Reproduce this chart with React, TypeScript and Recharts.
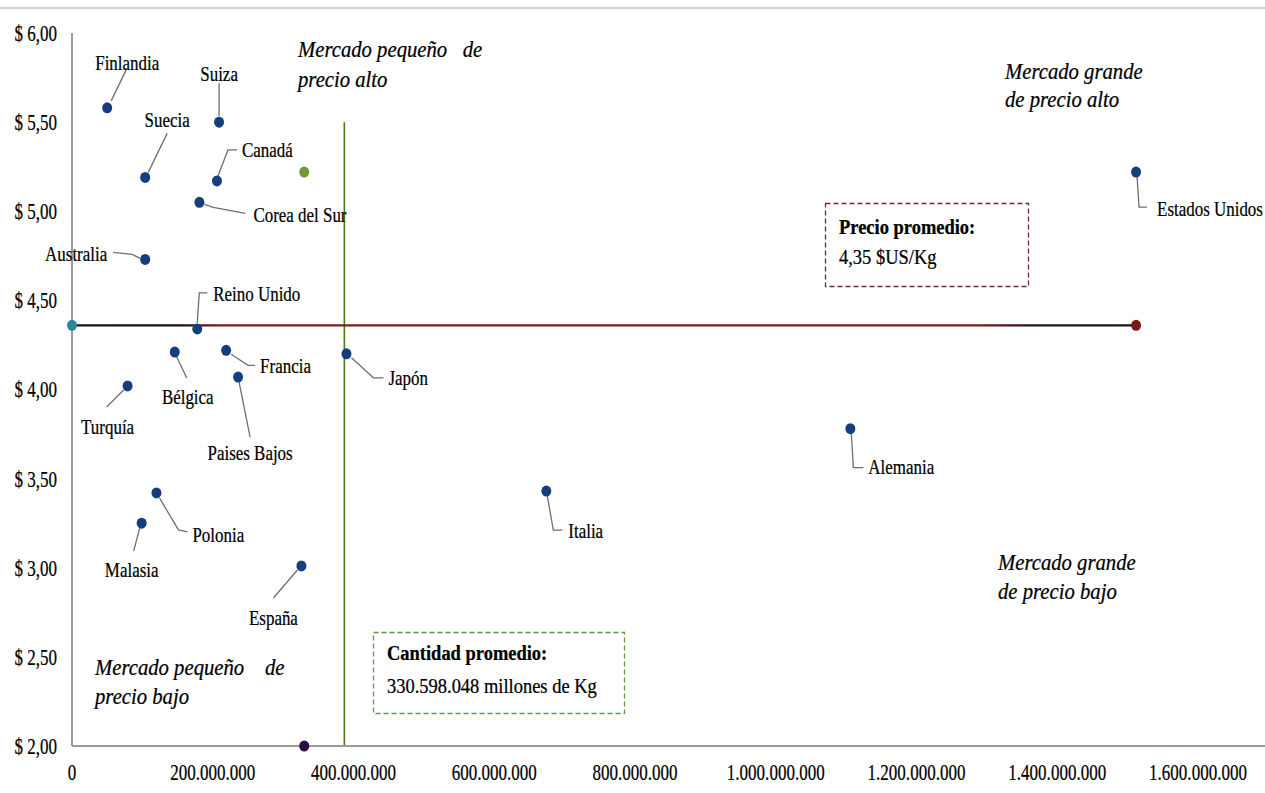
import React from "react";
import {
  ReferenceLine,
  Scatter,
  ScatterChart,
  XAxis,
  YAxis,
} from "recharts";

// Cantidad importada (Kg) y precio promedio ($US/Kg) por país
const paises = [
  "Finlandia",
  "Suiza",
  "Suecia",
  "Canadá",
  "Corea del Sur",
  "Australia",
  "Reino Unido",
  "Bélgica",
  "Francia",
  "Paises Bajos",
  "Japón",
  "Turquía",
  "Polonia",
  "Malasia",
  "España",
  "Estados Unidos",
  "Alemania",
  "Italia",
];
const cantidad = [
  50e6, 209e6, 104e6, 206e6, 181e6, 104e6, 178e6, 146e6, 219e6, 236e6, 390e6,
  79e6, 120e6, 99e6, 326e6, 1512e6, 1106e6, 674e6,
];
const precio = [
  5.58, 5.5, 5.19, 5.17, 5.05, 4.73, 4.34, 4.21, 4.22, 4.07, 4.2, 4.02, 3.42,
  3.25, 3.01, 5.22, 3.78, 3.43,
];

// línea del precio promedio
const precioPromX = [0, 1512e6];
const precioPromY = [4.36, 4.36];
// puntos de la cantidad promedio
const cantidadPromX = [330e6, 330e6];
const cantidadPromY = [5.22, 2.0];
// línea vertical dibujada
const lineaVerticalX = 387e6;
const lineaVerticalY = [2.0, 5.5];

const xTicks = [0, 2e8, 4e8, 6e8, 8e8, 10e8, 12e8, 14e8, 16e8];
const yTicks = [2, 2.5, 3, 3.5, 4, 4.5, 5, 5.5, 6];

const FONT = '"Liberation Serif", "Times New Roman", serif';
const W = 1265;
const H = 793;

// posición de etiquetas y guías, relativa al punto (px)
type Lay = { tx: number; ty: number; anchor: "start" | "middle" | "end"; path: number[][] };
const labelLayout: Record<string, Lay> = {
  Finlandia: { tx: 20, ty: -45, anchor: "middle", path: [[4, -7], [19, -38]] },
  Suiza: { tx: 0, ty: -48, anchor: "middle", path: [[0, -6], [0, -39]] },
  Suecia: { tx: 22, ty: -58, anchor: "middle", path: [[3, -5], [22, -44]] },
  "Canadá": { tx: 25, ty: -31, anchor: "start", path: [[1, -5], [11, -31], [20, -31]] },
  "Corea del Sur": { tx: 54, ty: 12, anchor: "start", path: [[5, 2], [14, 5], [46, 11]] },
  Australia: { tx: -38, ty: -6, anchor: "end", path: [[-5, -1], [-13, -5], [-32, -7]] },
  "Reino Unido": { tx: 16, ty: -35, anchor: "start", path: [[0, -6], [2, -36], [10, -36]] },
  "Bélgica": { tx: 13, ty: 45, anchor: "middle", path: [[2, 5], [12, 26]] },
  Francia: { tx: 34, ty: 15, anchor: "start", path: [[5, 4], [22, 15], [29, 15]] },
  "Paises Bajos": { tx: 12, ty: 76, anchor: "middle", path: [[1, 5], [12, 60]] },
  "Japón": { tx: 42, ty: 24, anchor: "start", path: [[5, 4], [27, 24], [37, 24]] },
  "Turquía": { tx: -20, ty: 41, anchor: "middle", path: [[-4, 4], [-21, 21]] },
  Polonia: { tx: 36, ty: 42, anchor: "start", path: [[3, 5], [22, 37], [31, 39]] },
  Malasia: { tx: -10, ty: 47, anchor: "middle", path: [[-2, 5], [-8, 28]] },
  "España": { tx: -28, ty: 52, anchor: "middle", path: [[-4, 4], [-28, 32]] },
  "Estados Unidos": { tx: 21, ty: 37, anchor: "start", path: [[1, 5], [3, 35], [11, 35]] },
  Alemania: { tx: 18, ty: 38, anchor: "start", path: [[1, 5], [3, 39], [13, 39]] },
  Italia: { tx: 22, ty: 40, anchor: "start", path: [[1, 5], [7, 39], [16, 39]] },
};

function SText({
  x,
  y,
  children,
  size = 22,
  sx = 0.77,
  anchor = "start",
  weight = "normal",
  italic = false,
}: any) {
  return (
    <text
      transform={`translate(${x},${y}) scale(${sx},1)`}
      textAnchor={anchor}
      dominantBaseline="central"
      fontSize={size}
      fontFamily={FONT}
      fontWeight={weight}
      fontStyle={italic ? "italic" : "normal"}
      fill="#000"
      stroke="#000"
      strokeWidth={0.25}
      style={{ whiteSpace: "pre" }}
    >
      {children}
    </text>
  );
}

function formatMiles(v: number) {
  return String(Math.round(v)).replace(/\B(?=(\d{3})+(?!\d))/g, ".");
}

function XTick({ x, y, payload }: any) {
  return (
    <SText x={x} y={y + 26} anchor="middle" size={23} sx={0.74}>
      {formatMiles(payload.value)}
    </SText>
  );
}

function YTick({ x, y, payload }: any) {
  return (
    <SText x={x - 15} y={y} anchor="end" size={23} sx={0.74}>
      {"$ " + Number(payload.value).toFixed(2).replace(".", ",")}
    </SText>
  );
}

function CountryPoint(props: any) {
  const { cx, cy, payload } = props;
  const lay = labelLayout[payload.name];
  const pts = lay.path.map(([dx, dy]) => `${cx + dx},${cy + dy}`).join(" ");
  return (
    <g>
      <polyline points={pts} fill="none" stroke="#6f6f6f" strokeWidth={1.3} />
      <ellipse cx={cx} cy={cy} rx={5} ry={5.5} fill="#153e7e" />
      <SText x={cx + lay.tx} y={cy + lay.ty} anchor={lay.anchor}>
        {payload.name}
      </SText>
    </g>
  );
}

const precioColors = ["#2a8798", "#7d1616"];
const cantidadColors = ["#74973a", "#2b0c45"];

function makeDot(colors: string[]) {
  return (props: any) => {
    const { cx, cy, index } = props;
    return <ellipse cx={cx} cy={cy} rx={5} ry={5.5} fill={colors[index] ?? colors[0]} />;
  };
}

export default function App() {
  const countryData = paises.map((name, i) => ({ name, x: cantidad[i], y: precio[i] }));
  const precioData = precioPromX.map((x, i) => ({ x, y: precioPromY[i] }));
  const cantidadData = cantidadPromX.map((x, i) => ({ x, y: cantidadPromY[i] }));

  return (
    <div style={{ position: "absolute", left: 0, top: 0, width: W, height: H, background: "#fff" }}>
      <svg width={W} height={H} style={{ position: "absolute", left: 0, top: 0 }}>
        <defs>
          <linearGradient id="precioGrad" gradientUnits="userSpaceOnUse" x1={72} x2={1136} y1={0} y2={0}>
            <stop offset="0" stopColor="#141414" />
            <stop offset="0.1" stopColor="#1a1010" />
            <stop offset="0.14" stopColor="#7a1c1c" />
            <stop offset="0.85" stopColor="#7a1c1c" />
            <stop offset="0.9" stopColor="#2a1414" />
            <stop offset="1" stopColor="#141414" />
          </linearGradient>
        </defs>
        <line x1={0} x2={W} y1={8} y2={8} stroke="#cfcfcf" strokeWidth={2} />
        <line x1={1190} x2={W} y1={746} y2={746} stroke="#9a9a9a" strokeWidth={2} />

        <SText x={298} y={50} size={23} sx={0.9} italic>{"Mercado pequeño   de"}</SText>
        <SText x={298} y={80} size={23} sx={0.9} italic>precio alto</SText>
        <SText x={1005} y={72} size={23} sx={0.9} italic>Mercado grande</SText>
        <SText x={1005} y={100} size={23} sx={0.9} italic>de precio alto</SText>
        <SText x={998} y={563} size={23} sx={0.9} italic>Mercado grande</SText>
        <SText x={998} y={592} size={23} sx={0.9} italic>de precio bajo</SText>
        <SText x={95} y={668} size={23} sx={0.9} italic>{"Mercado pequeño    de"}</SText>
        <SText x={95} y={697} size={23} sx={0.9} italic>precio bajo</SText>

        <rect x={825.5} y={203.5} width={203} height={83} fill="none" stroke="#6b2a2a" strokeWidth={1.3} strokeDasharray="5 3" />
        <SText x={839} y={227} size={21} sx={0.88} weight="bold">Precio promedio:</SText>
        <SText x={839} y={257} size={21} sx={0.88}>4,35 $US/Kg</SText>

        <rect x={373.5} y={632.5} width={251} height={81} fill="none" stroke="#5c9a3a" strokeWidth={1.3} strokeDasharray="5 3" />
        <SText x={387} y={653} size={21} sx={0.88} weight="bold">Cantidad promedio:</SText>
        <SText x={387} y={686} size={21} sx={0.88}>330.598.048 millones de Kg</SText>
      </svg>

      <div style={{ position: "absolute", left: 0, top: 0 }}>
        <ScatterChart width={W} height={H} margin={{ top: 33, right: 67, bottom: 0, left: 0 }}>
          <XAxis
            type="number"
            dataKey="x"
            domain={[0, 1.6e9]}
            ticks={xTicks}
            interval={0}
            height={47}
            tickSize={0}
            tickMargin={0}
            tickLine={false}
            axisLine={{ stroke: "#9a9a9a", strokeWidth: 2 }}
            tick={<XTick />}
          />
          <YAxis
            type="number"
            dataKey="y"
            domain={[2, 6]}
            ticks={yTicks}
            interval={0}
            width={72}
            tickSize={0}
            tickMargin={0}
            tickLine={false}
            axisLine={{ stroke: "#9a9a9a", strokeWidth: 2 }}
            tick={<YTick />}
          />
          <ReferenceLine
            segment={[
              { x: lineaVerticalX, y: lineaVerticalY[0] },
              { x: lineaVerticalX, y: lineaVerticalY[1] },
            ]}
            stroke="#4a7a12"
            strokeWidth={1.6}
          />
          <Scatter
            data={precioData}
            line={{ stroke: "url(#precioGrad)", strokeWidth: 2.2 }}
            lineType="joint"
            shape={makeDot(precioColors)}
            isAnimationActive={false}
          />
          <Scatter data={cantidadData} shape={makeDot(cantidadColors)} isAnimationActive={false} />
          <Scatter data={countryData} shape={<CountryPoint />} isAnimationActive={false} />
        </ScatterChart>
      </div>
    </div>
  );
}
